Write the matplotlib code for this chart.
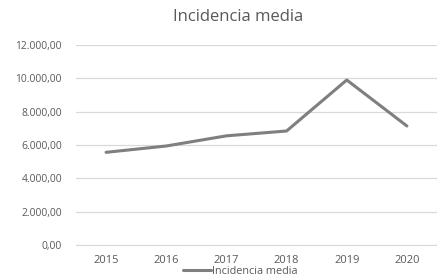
import matplotlib.pyplot as plt
from matplotlib.ticker import FuncFormatter

years = ["2015", "2016", "2017", "2018", "2019", "2020"]
incidencia = [5560, 5940, 6550, 6840, 9900, 7140]
y_ticks = [0, 2000, 4000, 6000, 8000, 10000, 12000]

plt.rcParams['font.family'] = ['Open Sans', 'DejaVu Sans']
text_col = '#595959'

fig = plt.figure(figsize=(4.37, 2.79), dpi=100)
ax = fig.add_axes([76 / 437, 1 - 245 / 279, (437 - 76) / 437, (245 - 45) / 279])

x = list(range(len(years)))
ax.plot(x, incidencia, color='#7f7f7f', lw=2.2, solid_capstyle='round',
        label='Incidencia media')

ax.set_xlim(-0.5, len(years) - 0.5)
ax.set_ylim(0, 12000)
ax.set_yticks(y_ticks)
ax.yaxis.set_major_formatter(FuncFormatter(
    lambda v, p: f"{v:,.2f}".replace(",", "X").replace(".", ",").replace("X", ".")))
ax.set_xticks(x)
ax.set_xticklabels(years)

ax.grid(axis='y', color='#d9d9d9', lw=0.9)
ax.set_axisbelow(True)
for s in ['top', 'right', 'left']:
    ax.spines[s].set_visible(False)
ax.spines['bottom'].set_color('#d9d9d9')
ax.tick_params(axis='both', length=0, colors=text_col)
ax.tick_params(axis='y', pad=10, labelsize=7.4)
ax.tick_params(axis='x', pad=7, labelsize=8)

fig.text(0.545, 1 - 17 / 279, 'Incidencia media', ha='center', va='center',
         fontsize=12, color=text_col)

ax.legend(loc='center', bbox_to_anchor=(0.55, 1 - 271 / 279), bbox_transform=fig.transFigure,
          frameon=False, fontsize=7.8, labelcolor=text_col, handlelength=2.6,
          handletextpad=0.1, borderpad=0)

fig.savefig('out.png', dpi=100)
